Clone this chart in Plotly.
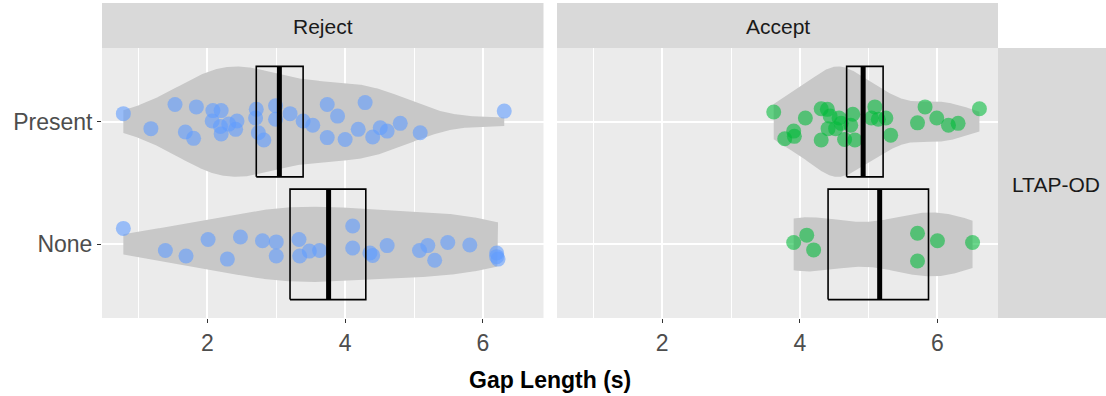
import numpy as np
import plotly.graph_objects as go

# ---- data -------------------------------------------------------------
decisions = ["Reject", "Accept"]
conditions = ["None", "Present"]          # y order, bottom to top

# gap lengths (s) and vertical jitter offsets for each panel/condition
reject_present_gap = [0.78, 1.18, 1.53, 1.68, 1.80, 1.84, 2.08, 2.20, 2.07, 2.19,
                      2.20, 2.41, 2.43, 2.31, 2.71, 2.74, 2.82, 2.70, 2.99, 2.99,
                      3.20, 3.39, 3.53, 3.74, 3.74, 3.89, 4.00, 4.19, 4.29, 4.40,
                      4.51, 4.61, 4.80, 5.09, 6.31]
reject_present_jit = [0.065, -0.057, 0.14, -0.085, -0.136, 0.12, 0.09, 0.09, 0.005, -0.04,
                      -0.10, -0.063, 0.005, -0.02, 0.10, -0.09, -0.15, 0.03, 0.13, 0.02,
                      0.065, 0.005, -0.03, 0.14, -0.13, 0.045, -0.145, -0.063, 0.155, -0.125,
                      -0.05, -0.077, -0.014, -0.09, 0.086]

reject_none_gap = [0.78, 1.39, 1.69, 2.01, 2.29, 2.48, 2.80, 3.00, 3.00, 3.33,
                   3.34, 3.48, 3.63, 4.11, 4.11, 4.36, 4.40, 4.61, 5.08, 5.20,
                   5.30, 5.49, 5.81, 6.20, 6.22, 6.20]
reject_none_jit = [0.13, -0.05, -0.095, 0.04, -0.12, 0.06, 0.03, 0.02, -0.095, 0.04,
                   -0.095, -0.055, -0.05, 0.15, -0.03, -0.07, -0.09, -0.01, -0.05, -0.01,
                   -0.13, 0.015, -0.005, -0.07, -0.12, -0.10]

accept_present_gap = [3.62, 4.08, 3.91, 3.78, 3.92, 4.31, 4.40, 4.44, 4.31, 4.41,
                      4.57, 4.52, 4.60, 4.77, 4.74, 4.65, 4.80, 5.09, 5.04, 5.14,
                      5.25, 5.32, 5.82, 5.71, 5.99, 6.16, 6.30, 6.61]
accept_present_jit = [0.078, 0.03, -0.077, -0.14, -0.12, 0.105, 0.10, 0.045, -0.15, -0.057,
                      0.03, -0.057, -0.014, 0.06, -0.03, -0.145, -0.15, 0.12, 0.03, 0.02,
                      0.03, -0.11, 0.12, -0.01, 0.03, -0.03, -0.014, 0.105]

accept_none_gap = [3.91, 4.10, 4.20, 5.71, 5.71, 6.00, 6.51]
accept_none_jit = [0.015, 0.075, -0.045, 0.09, -0.135, 0.03, 0.015]

# crossbar summaries: lower, centre, upper
reject_bar = {"Present": [2.71, 3.045, 3.39], "None": [3.20, 3.76, 4.30]}
accept_bar = {"Present": [4.68, 4.92, 5.21], "None": [4.41, 5.16, 5.87]}

x_ticks = [2, 4, 6]
x_minor = [1, 3, 5]

# ---- styling ----------------------------------------------------------
W, H = 1106, 396
FONT = "Liberation Sans, Arial, sans-serif"
PANEL_BG = "#EBEBEB"
STRIP_BG = "#D9D9D9"
VIOLIN_FILL = "#C8C8C8"
COLORS = {"Reject": "rgba(97,156,255,0.6)", "Accept": "rgba(0,186,56,0.58)"}
HALF = 0.45  # half of the dodge width


def px_x(p):
    return p / W


def px_y(p):
    return 1 - p / H


panel_x = {"Reject": (px_x(102), px_x(543.5)), "Accept": (px_x(557), px_x(998))}
panel_y = (px_y(318), px_y(48))


def kde(vals, n=512):
    v = np.asarray(vals, dtype=float)
    sd = v.std(ddof=1)
    q75, q25 = np.percentile(v, [75, 25])
    spread = min(sd, (q75 - q25) / 1.34) if q75 > q25 else sd
    bw = 0.9 * spread * len(v) ** -0.2
    grid = np.linspace(v.min(), v.max(), n)
    dens = np.exp(-0.5 * ((grid[:, None] - v[None, :]) / bw) ** 2).sum(1)
    dens /= len(v) * bw * np.sqrt(2 * np.pi)
    return grid, dens


panels = {
    "Reject": {"Present": (reject_present_gap, reject_present_jit),
               "None": (reject_none_gap, reject_none_jit),
               "bar": reject_bar},
    "Accept": {"Present": (accept_present_gap, accept_present_jit),
               "None": (accept_none_gap, accept_none_jit),
               "bar": accept_bar},
}

fig = go.Figure()

for i, dec in enumerate(decisions):
    xa = "x" if i == 0 else "x2"
    ya = "y" if i == 0 else "y2"
    p = panels[dec]

    # violins (area-scaled within the panel, trimmed to data range)
    dens_all = {c: kde(p[c][0]) for c in conditions}
    dmax = max(d.max() for _, d in dens_all.values())
    for c in conditions:
        yc = conditions.index(c) + 1
        grid, d = dens_all[c]
        hw = HALF * d / dmax
        xs = np.concatenate([grid, grid[::-1], grid[:1]])
        ys = np.concatenate([yc + hw, (yc - hw)[::-1], [yc + hw[0]]])
        fig.add_trace(go.Scatter(x=xs, y=ys, mode="lines", fill="toself",
                                 fillcolor=VIOLIN_FILL, line=dict(width=0),
                                 hoverinfo="skip", showlegend=False,
                                 xaxis=xa, yaxis=ya))

    # jittered points
    for c in conditions:
        yc = conditions.index(c) + 1
        gaps, jit = p[c]
        fig.add_trace(go.Scatter(x=gaps, y=[yc + j for j in jit], mode="markers",
                                 marker=dict(size=15, color=COLORS[dec], line=dict(width=0)),
                                 showlegend=False, xaxis=xa, yaxis=ya))

    # crossbars
    for c in conditions:
        yc = conditions.index(c) + 1
        lo, mid, hi = p["bar"][c]
        fig.add_trace(go.Scatter(x=[lo, hi, hi, lo, lo],
                                 y=[yc - HALF, yc - HALF, yc + HALF, yc + HALF, yc - HALF],
                                 mode="lines", line=dict(color="black", width=1.6),
                                 hoverinfo="skip", showlegend=False,
                                 xaxis=xa, yaxis=ya))
        fig.add_trace(go.Scatter(x=[mid, mid], y=[yc - HALF, yc + HALF],
                                 mode="lines", line=dict(color="black", width=5),
                                 hoverinfo="skip", showlegend=False,
                                 xaxis=xa, yaxis=ya))

x_common = dict(range=[0.47, 6.88], tickvals=x_ticks, ticktext=[str(t) for t in x_ticks],
                showgrid=True, gridcolor="white", gridwidth=1.6, zeroline=False,
                showline=False, ticks="outside", ticklen=4, tickwidth=1, tickcolor="#333333",
                tickfont=dict(family=FONT, size=23, color="#4D4D4D"),
                minor=dict(tickvals=x_minor, showgrid=True, gridcolor="white", gridwidth=0.8,
                           ticks=""),
                fixedrange=True)
y_common = dict(range=[0.4, 2.6], tickvals=[1, 2], ticktext=conditions,
                showgrid=True, gridcolor="white", gridwidth=1.6, zeroline=False,
                showline=False, domain=list(panel_y), fixedrange=True)

fig.update_layout(
    width=W, height=H, margin=dict(l=0, r=0, t=0, b=0),
    paper_bgcolor="white", plot_bgcolor=PANEL_BG, showlegend=False,
    xaxis=dict(**x_common, domain=list(panel_x["Reject"]), anchor="y"),
    xaxis2=dict(**x_common, domain=list(panel_x["Accept"]), anchor="y2", matches="x"),
    yaxis=dict(**y_common, anchor="x", ticks="outside", ticklen=4, tickwidth=1,
               tickcolor="#333333", tickfont=dict(family=FONT, size=23, color="#4D4D4D")),
    yaxis2=dict(**y_common, anchor="x2", matches="y", showticklabels=False, ticks=""),
)

# facet strips
shapes = []
annotations = []
for dec in decisions:
    x0, x1 = panel_x[dec]
    shapes.append(dict(type="rect", xref="paper", yref="paper", x0=x0, x1=x1,
                       y0=panel_y[1], y1=px_y(3), fillcolor=STRIP_BG, line=dict(width=0)))
    annotations.append(dict(text=dec, xref="paper", yref="paper", x=(x0 + x1) / 2,
                            y=px_y(27), showarrow=False,
                            xanchor="center", yanchor="middle",
                            font=dict(family=FONT, size=21, color="#1A1A1A")))
shapes.append(dict(type="rect", xref="paper", yref="paper", x0=px_x(998), x1=1,
                   y0=panel_y[0], y1=panel_y[1], fillcolor=STRIP_BG, line=dict(width=0)))
annotations.append(dict(text="LTAP-OD", xref="paper", yref="paper", x=px_x(1056),
                        y=px_y(185), showarrow=False,
                        xanchor="center", yanchor="middle",
                        font=dict(family=FONT, size=21, color="#1A1A1A")))
annotations.append(dict(text="<b>Gap Length (s)</b>", xref="paper", yref="paper",
                        x=px_x(550), y=px_y(380), showarrow=False,
                        xanchor="center", yanchor="middle",
                        font=dict(family=FONT, size=23, color="black")))
fig.update_layout(shapes=shapes, annotations=annotations)

fig.write_html("out.html")
